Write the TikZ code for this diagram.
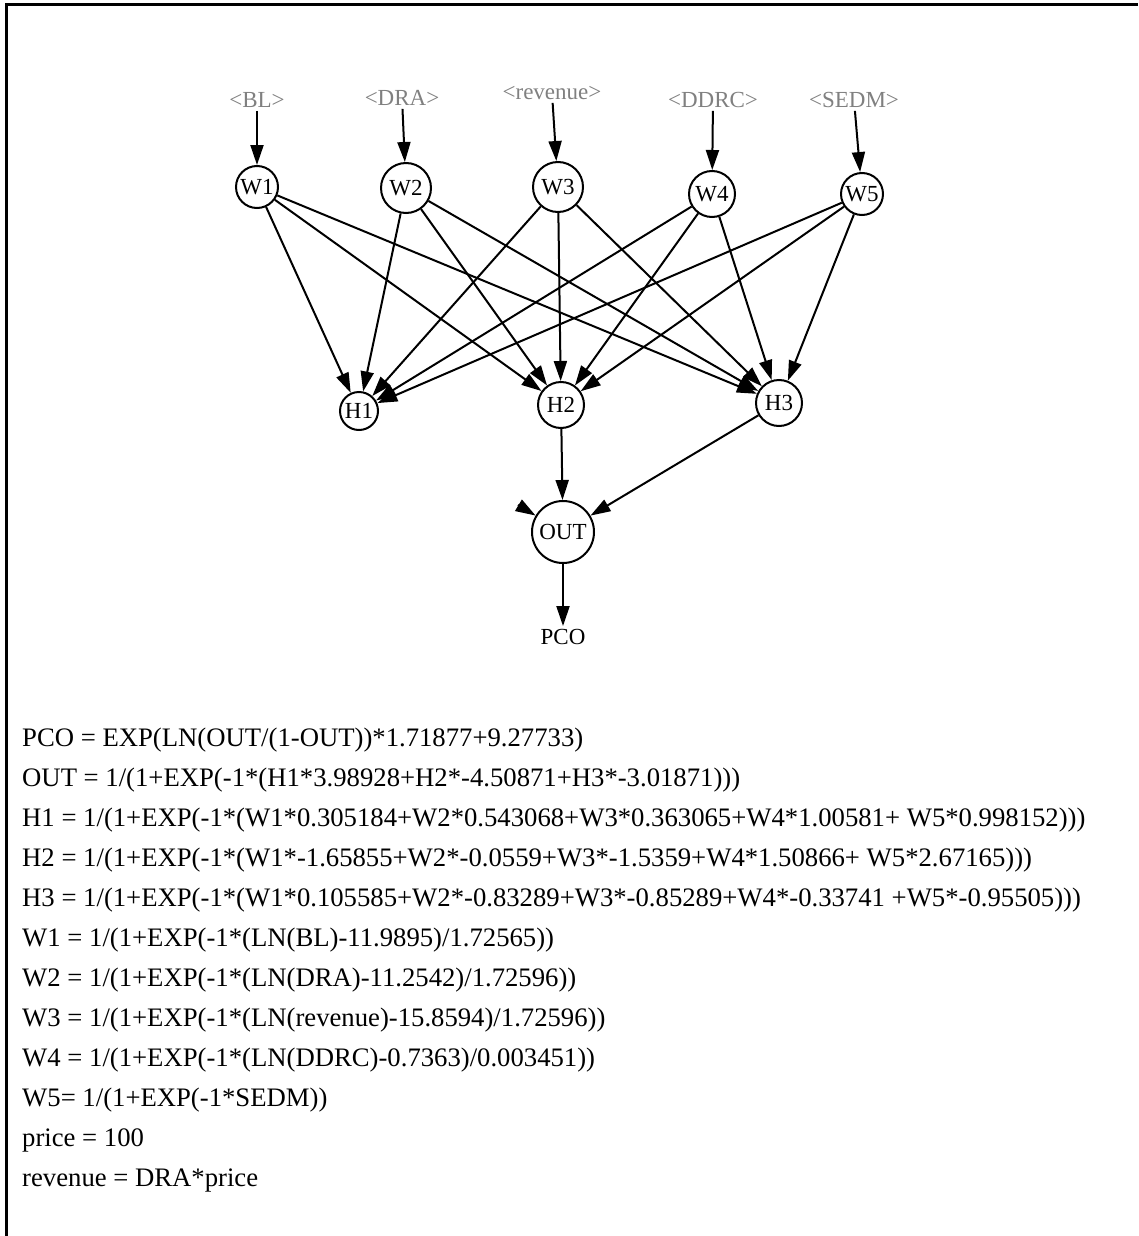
\documentclass[tikz,border=0pt]{standalone}
\usepackage{fontspec}
\setmainfont{Liberation Serif}
\usepackage{tikz}
\usetikzlibrary{arrows.meta,positioning}
\definecolor{srcgray}{RGB}{128,128,128}

\begin{document}
\begin{tikzpicture}[
      x=1pt, y=-1pt,
      neuron/.style={circle, draw, line width=2pt, inner sep=0pt, font=\fontsize{23}{27}\selectfont},
      srclabel/.style={text=srcgray, inner sep=3pt, font=\fontsize{23}{27}\selectfont},
      outlabel/.style={inner sep=3pt, font=\fontsize{23}{27}\selectfont},
      eqn/.style={anchor=base west, inner sep=0pt, font=\fontsize{26.7}{40}\selectfont},
      arrow/.style={-{Triangle[length=20pt,width=13pt]}, line width=2pt},
    ]
      \useasboundingbox (0,0) rectangle (1138,1236);
      \draw[line width=3pt] (1138,5) -- (6,5) -- (6,1236);

      % Inputs (shadow variables)
      \node[srclabel] (bl) at (257,100) {<BL>};
      \node[srclabel] (dra) at (402,98) {<DRA>};
      \node[srclabel] (rev) at (552,93) {<revenue>};
      \node[srclabel] (ddrc) at (713,100) {<DDRC>};
      \node[srclabel] (sedm) at (854,100) {<SEDM>};

      % Input layer
      \node[neuron, minimum size=42pt] (w1) at (257,187) {W1};
      \node[neuron, minimum size=50pt] (w2) at (406,188) {W2};
      \node[neuron, minimum size=50pt] (w3) at (558,187) {W3};
      \node[neuron, minimum size=46pt] (w4) at (712,194) {W4};
      \node[neuron, minimum size=42pt] (w5) at (862,194) {W5};

      % Hidden layer
      \node[neuron, minimum size=38pt] (h1) at (359,411) {H1};
      \node[neuron, minimum size=46pt] (h2) at (561,405) {H2};
      \node[neuron, minimum size=46pt] (h3) at (779,403) {H3};

      % Output
      \node[neuron, minimum size=62pt] (out) at (563,532) {OUT};
      \node[outlabel] (pco) at (563,637) {PCO};
      \coordinate (h1stub) at (518,505);

      \draw[arrow] (bl) -- (w1);
      \draw[arrow] (dra) -- (w2);
      \draw[arrow] (rev) -- (w3);
      \draw[arrow] (ddrc) -- (w4);
      \draw[arrow] (sedm) -- (w5);

      \draw[arrow] (w1) -- (h1); \draw[arrow] (w1) -- (h2); \draw[arrow] (w1) -- (h3);
      \draw[arrow] (w2) -- (h1); \draw[arrow] (w2) -- (h2); \draw[arrow] (w2) -- (h3);
      \draw[arrow] (w3) -- (h1); \draw[arrow] (w3) -- (h2); \draw[arrow] (w3) -- (h3);
      \draw[arrow] (w4) -- (h1); \draw[arrow] (w4) -- (h2); \draw[arrow] (w4) -- (h3);
      \draw[arrow] (w5) -- (h1); \draw[arrow] (w5) -- (h2); \draw[arrow] (w5) -- (h3);

      \draw[arrow] (h1stub) -- (out);
      \draw[arrow] (h2) -- (out);
      \draw[arrow] (h3) -- (out);
      \draw[arrow] (out) -- (pco);

      % Equations
      \node[eqn] (eqpco) at (22,746) {PCO = EXP(LN(OUT/(1-OUT))*1.71877+9.27733)};
      \node[eqn] (eqout) at (22,786) {OUT = 1/(1+EXP(-1*(H1*3.98928+H2*-4.50871+H3*-3.01871)))};
      \node[eqn] (eqh1) at (22,826) {H1 = 1/(1+EXP(-1*(W1*0.305184+W2*0.543068+W3*0.363065+W4*1.00581+ W5*0.998152)))};
      \node[eqn] (eqh2) at (22,866) {H2 = 1/(1+EXP(-1*(W1*-1.65855+W2*-0.0559+W3*-1.5359+W4*1.50866+ W5*2.67165)))};
      \node[eqn] (eqh3) at (22,906) {H3 = 1/(1+EXP(-1*(W1*0.105585+W2*-0.83289+W3*-0.85289+W4*-0.33741 +W5*-0.95505)))};
      \node[eqn] (eqw1) at (22,946) {W1 = 1/(1+EXP(-1*(LN(BL)-11.9895)/1.72565))};
      \node[eqn] (eqw2) at (22,986) {W2 = 1/(1+EXP(-1*(LN(DRA)-11.2542)/1.72596))};
      \node[eqn] (eqw3) at (22,1026) {W3 = 1/(1+EXP(-1*(LN(revenue)-15.8594)/1.72596))};
      \node[eqn] (eqw4) at (22,1066) {W4 = 1/(1+EXP(-1*(LN(DDRC)-0.7363)/0.003451))};
      \node[eqn] (eqw5) at (22,1106) {W5= 1/(1+EXP(-1*SEDM))};
      \node[eqn] (eqprice) at (22,1146) {price = 100};
      \node[eqn] (eqrev) at (22,1186) {revenue = DRA*price};
    \end{tikzpicture}
\end{document}
